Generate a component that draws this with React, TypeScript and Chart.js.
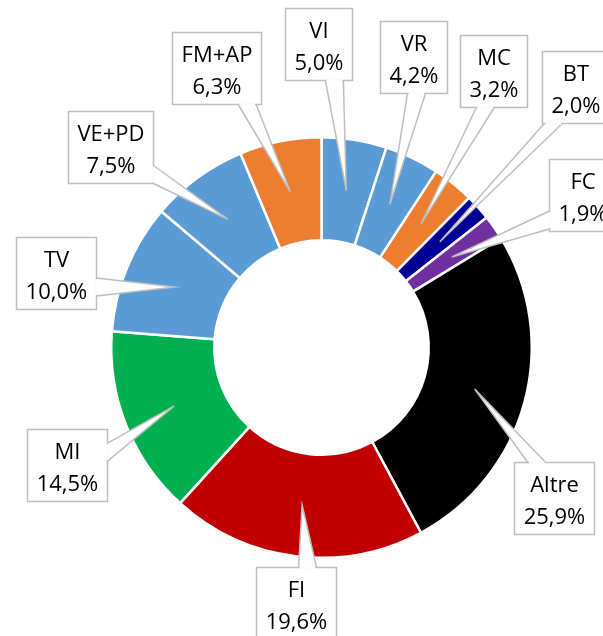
import React, { useEffect, useRef } from 'react';
import { Chart, registerables } from 'chart.js';

Chart.register(...registerables);

// ---- data ----
const categories = ['VI', 'VR', 'MC', 'BT', 'FC', 'Altre', 'FI', 'MI', 'TV', 'VE+PD', 'FM+AP'];
const shares = [5.0, 4.2, 3.2, 2.0, 1.9, 25.9, 19.6, 14.5, 10.0, 7.5, 6.3];
const sliceColors = [
  '#5B9BD5', '#5B9BD5', '#ED7D31', '#000096', '#7030A0',
  '#000000', '#C00000', '#00B050', '#5B9BD5', '#5B9BD5', '#ED7D31',
];
// callout box centres, relative to the doughnut centre, in units of the outer radius
const calloutOffsets: [number, number][] = [
  [-0.014, -1.445],
  [0.436, -1.383],
  [0.817, -1.317],
  [1.21, -1.24],
  [1.243, -0.724],
  [1.107, 0.714],
  [-0.119, 1.217],
  [-1.212, 0.56],
  [-1.262, -0.352],
  [-1.005, -0.952],
  [-0.498, -1.329],
];

const FONT = '22px "Open Sans", sans-serif';
const PAD_X = 9;
const BOX_H = 72;
const BASE = 18;
const BORDER = '#BFBFBF';

const fmt = (v: number) => v.toFixed(1).replace('.', ',') + '%';

const calloutPlugin = {
  id: 'callouts',
  afterDatasetsDraw(chart: any) {
    const meta = chart.getDatasetMeta(0);
    const ctx: CanvasRenderingContext2D = chart.ctx;
    const a0 = meta.data[0];
    const cx = a0.x, cy = a0.y, R = a0.outerRadius;
    ctx.save();
    ctx.font = FONT;
    meta.data.forEach((arc: any, i: number) => {
      const tip = arc.tooltipPosition(false);
      const [ox, oy] = calloutOffsets[i];
      const bx = cx + ox * R, by = cy + oy * R;
      const lines = [categories[i], fmt(shares[i])];
      const w = Math.round(Math.max(...lines.map((l) => ctx.measureText(l).width)) + 2 * PAD_X);
      const h = BOX_H;
      const left = Math.round(bx - w / 2) + 0.5;
      const top = Math.round(by - h / 2) + 0.5;
      const right = left + w, bottom = top + h;
      const dx = tip.x - bx, dy = tip.y - by;
      const tx = dx !== 0 ? (w / 2) / Math.abs(dx) : Infinity;
      const ty = dy !== 0 ? (h / 2) / Math.abs(dy) : Infinity;
      let b1: { x: number; y: number }, b2: { x: number; y: number };
      if (tx < ty) {
        const sx = dx > 0 ? right : left;
        let y0 = by + dy * tx;
        let y1 = y0 + BASE;
        if (y1 > bottom) { y1 = bottom; y0 = bottom - BASE; }
        b1 = { x: sx, y: y0 }; b2 = { x: sx, y: y1 };
      } else {
        const sy = dy > 0 ? bottom : top;
        let x0 = bx + dx * ty;
        let x1 = x0 + BASE;
        if (x1 > right) { x1 = right; x0 = right - BASE; }
        b1 = { x: x0, y: sy }; b2 = { x: x1, y: sy };
      }
      // wedge
      ctx.beginPath();
      ctx.moveTo(b1.x, b1.y);
      ctx.lineTo(tip.x, tip.y);
      ctx.lineTo(b2.x, b2.y);
      ctx.closePath();
      ctx.fillStyle = '#ffffff';
      ctx.fill();
      ctx.beginPath();
      ctx.moveTo(b1.x, b1.y);
      ctx.lineTo(tip.x, tip.y);
      ctx.lineTo(b2.x, b2.y);
      ctx.strokeStyle = BORDER;
      ctx.lineWidth = 1.5;
      ctx.lineJoin = 'miter';
      ctx.stroke();
      // box
      ctx.fillStyle = '#ffffff';
      ctx.fillRect(left, top, w, h);
      ctx.strokeStyle = BORDER;
      ctx.lineWidth = 1.5;
      ctx.strokeRect(left, top, w, h);
      // open the border where the wedge joins
      const len = Math.hypot(b2.x - b1.x, b2.y - b1.y);
      const ux = (b2.x - b1.x) / len, uy = (b2.y - b1.y) / len;
      ctx.beginPath();
      ctx.moveTo(b1.x + ux * 1.2, b1.y + uy * 1.2);
      ctx.lineTo(b2.x - ux * 1.2, b2.y - uy * 1.2);
      ctx.strokeStyle = '#ffffff';
      ctx.lineWidth = 2.5;
      ctx.stroke();
      // text
      ctx.fillStyle = '#000000';
      ctx.textAlign = 'center';
      ctx.textBaseline = 'alphabetic';
      const mx = left + w / 2;
      ctx.fillText(lines[0], mx, top + 29);
      ctx.fillText(lines[1], mx, top + 61);
    });
    ctx.restore();
  },
};

export default function App() {
  const ref = useRef<HTMLCanvasElement | null>(null);
  useEffect(() => {
    if (!ref.current) return;
    const chart = new Chart(ref.current, {
      type: 'doughnut',
      data: {
        labels: categories,
        datasets: [
          {
            data: shares,
            backgroundColor: sliceColors,
            borderColor: '#ffffff',
            borderWidth: 2.5,
          },
        ],
      },
      options: {
        responsive: false,
        animation: false,
        cutout: '51%',
        rotation: 0,
        layout: { padding: { left: 110, right: 70, top: 136, bottom: 77 } },
        plugins: {
          legend: { display: false },
          tooltip: { enabled: false },
          title: { display: false },
        },
      },
      plugins: [calloutPlugin],
    });
    return () => chart.destroy();
  }, []);
  return (
    <div style={{ position: 'fixed', left: 0, top: 0, width: 603, height: 636, background: '#fff' }}>
      <canvas ref={ref} width={603} height={636} style={{ display: 'block' }} />
    </div>
  );
}
